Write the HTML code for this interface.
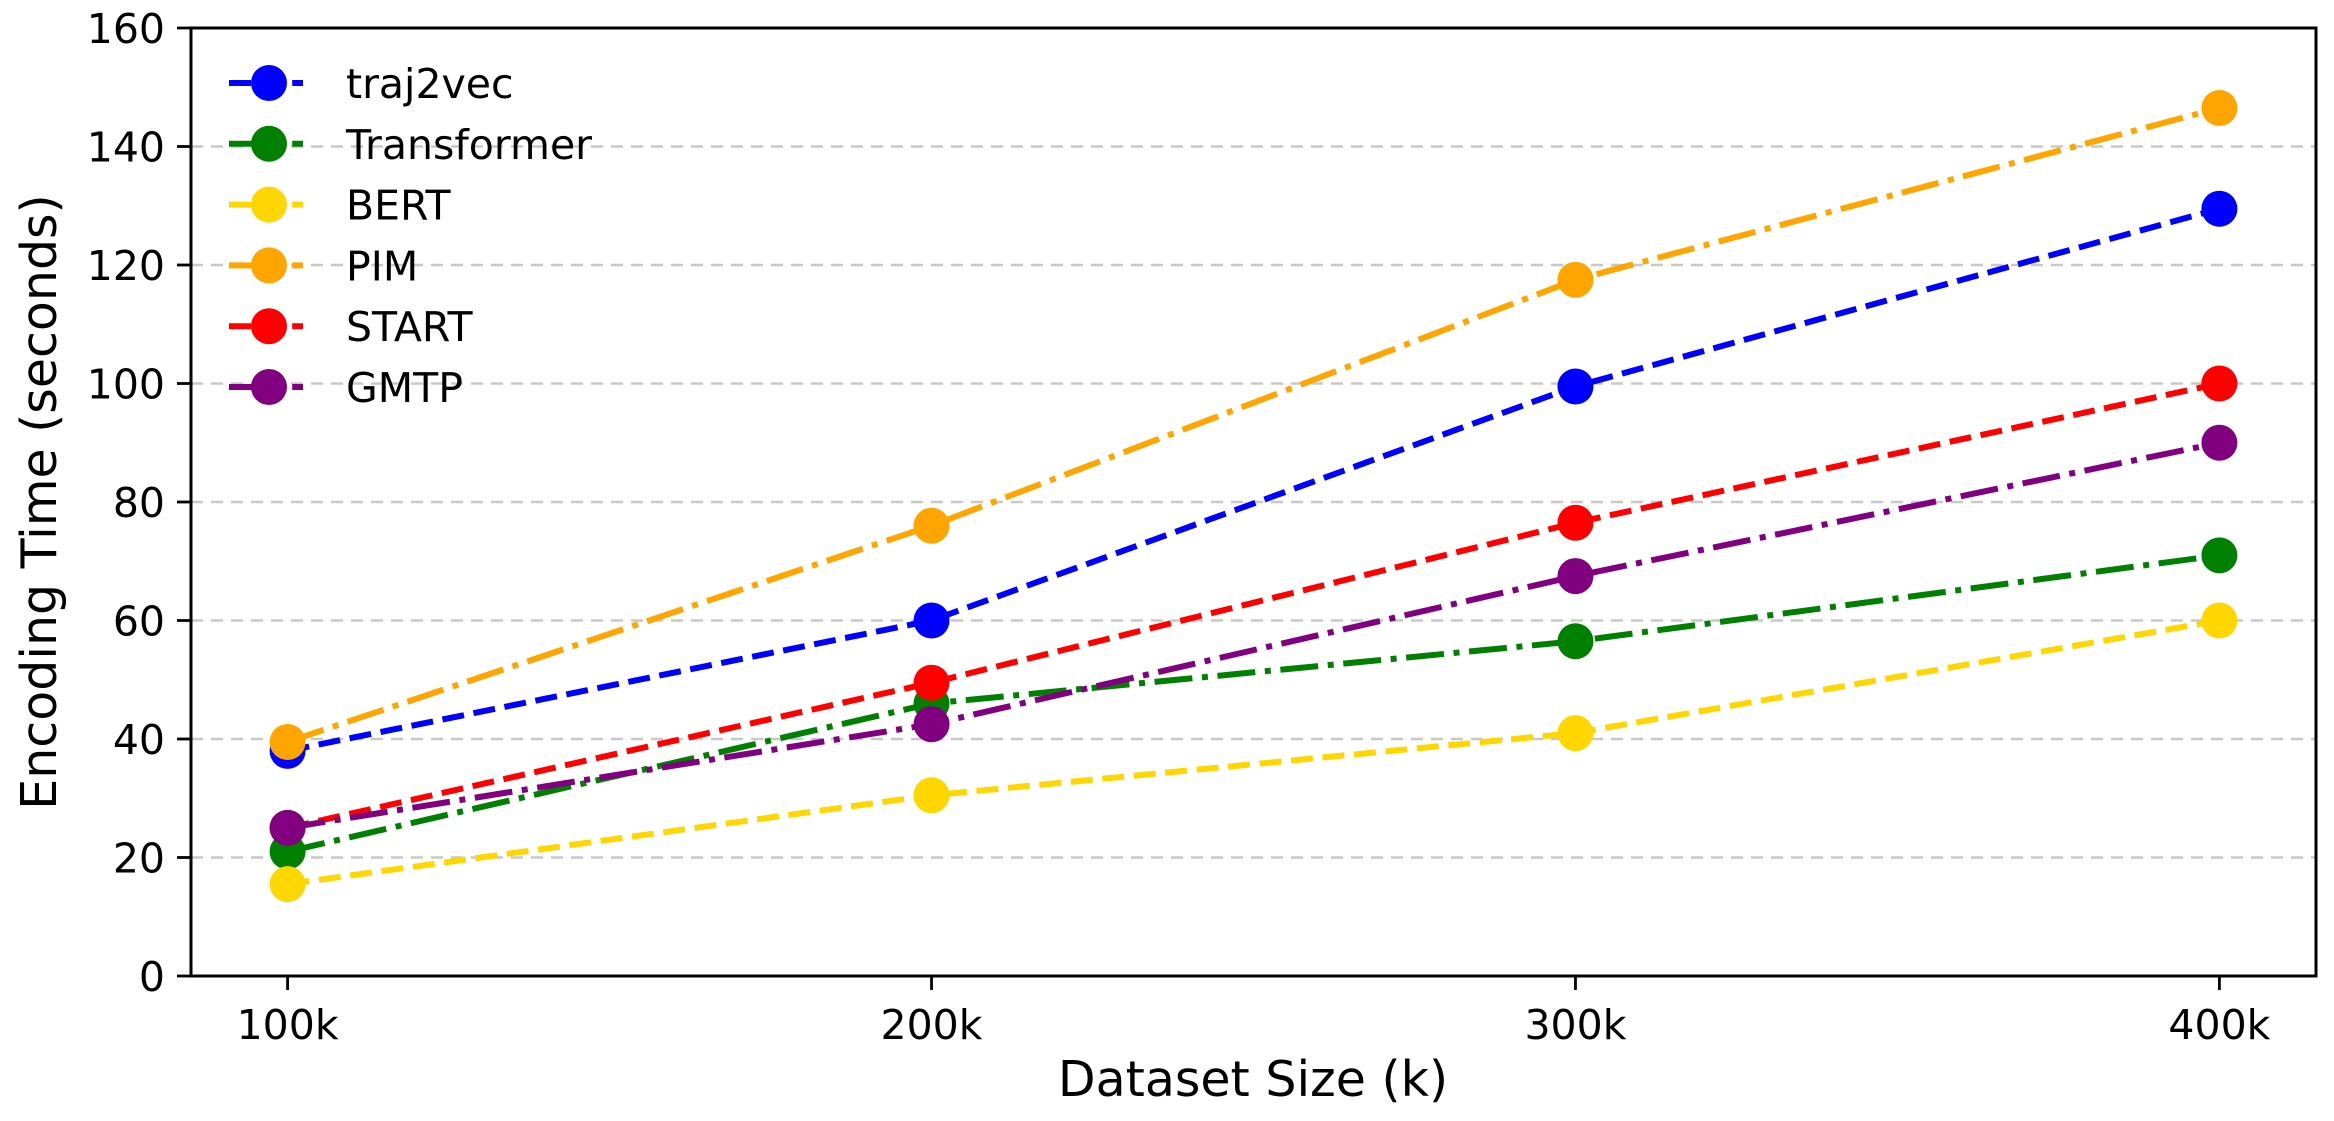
<!DOCTYPE html>
<html><head><meta charset="utf-8"><style>
html,body{margin:0;padding:0;background:#fff}
svg{display:block;font-family:"DejaVu Sans","Liberation Sans",sans-serif}
</style></head><body>
<svg id="chart" width="2334" height="1121" xmlns="http://www.w3.org/2000/svg">
<g id="grid"></g>
<g id="series"></g>
<g id="axes"></g>
<g id="legend"></g>
<text x="1253" y="1096" font-size="49" text-anchor="middle">Dataset Size (k)</text>
<text transform="translate(56,502) rotate(-90)" font-size="49" text-anchor="middle">Encoding Time (seconds)</text>
</svg>
<script>
const categories = ["100k","200k","300k","400k"];
const xValues = [100,200,300,400];
const yTicks = [0,20,40,60,80,100,120,140,160];
const seriesNames = ["traj2vec","Transformer","BERT","PIM","START","GMTP"];
const traj2vec = [38,60,99.5,129.5];
const transformer = [21,46,56.5,71];
const bert = [15.5,30.5,41,60];
const pim = [39.5,76,117.5,146.5];
const start = [25,49.5,76.5,100];
const gmtp = [25,42.5,67.5,90];

const seriesData=[traj2vec,transformer,bert,pim,start,gmtp];
const colors=["#0000ff","#008000","#ffd700","#ffa500","#ff0000","#800080"];
const styles=["dashed","dashdot","dashed","dashdot","dashed","dashdot"];
const L=191,R=2316,T=28,B=976;
const xmin=85,xmax=415,ymin=0,ymax=160;
const xs=v=>L+(v-xmin)/(xmax-xmin)*(R-L);
const ys=v=>B-(v-ymin)/(ymax-ymin)*(B-T);
const NS="http://www.w3.org/2000/svg";
function mk(tag,attrs,parent){const e=document.createElementNS(NS,tag);for(const k in attrs)e.setAttribute(k,attrs[k]);parent.appendChild(e);return e;}
const dash={dashed:"22,9.6",dashdot:"38,9.6,6,9.6"};
const grid=document.getElementById('grid'),axes=document.getElementById('axes'),ser=document.getElementById('series'),leg=document.getElementById('legend');
yTicks.forEach(t=>{
  if(t>0&&t<160){const g=mk('line',{x1:L,x2:R,y1:ys(t),y2:ys(t),stroke:"#c8c8c8","stroke-width":2.6,"stroke-dasharray":"12,8"},grid);
  
  }
  const tk=mk('line',{x1:L-14,x2:L,y1:ys(t),y2:ys(t),stroke:"#000","stroke-width":2.8},axes);
  
  
  const tx=mk('text',{x:L-26,y:ys(t)+15,"font-size":41,"text-anchor":"end"},axes);
  tx.textContent=t;
  
  
});
xValues.forEach((v,i)=>{
  const tk=mk('line',{x1:xs(v),x2:xs(v),y1:B,y2:B+14,stroke:"#000","stroke-width":2.8},axes);
  
  
  const tx=mk('text',{x:xs(v),y:B+63,"font-size":41,"text-anchor":"middle"},axes);
  tx.textContent=categories[i];
  
  
});
const frame=mk('rect',{x:L,y:T,width:R-L,height:B-T,fill:"none",stroke:"#000","stroke-width":3},axes);


seriesData.forEach((d,si)=>{
  const pts=d.map((v,i)=>xs(xValues[i])+","+ys(v)).join(" ");
  const pl=mk('polyline',{points:pts,fill:"none",stroke:colors[si],"stroke-width":6,"stroke-dasharray":dash[styles[si]]},ser);
  
  
  d.forEach((v,i)=>{
    const c=mk('circle',{cx:xs(xValues[i]),cy:ys(v),r:18,fill:colors[si]},ser);
    
    
  });
  const y=83+si*60.8;
  const ll=mk('line',{x1:229,x2:303,y1:y,y2:y,stroke:colors[si],"stroke-width":6,"stroke-dasharray":dash[styles[si]]},leg);
  
  
  const lc=mk('circle',{cx:269,cy:y,r:18,fill:colors[si]},leg);
  
  
  const lt=mk('text',{x:346,y:y+15,"font-size":41},leg);
  lt.textContent=seriesNames[si];
  
  
});
</script>
</body></html>
